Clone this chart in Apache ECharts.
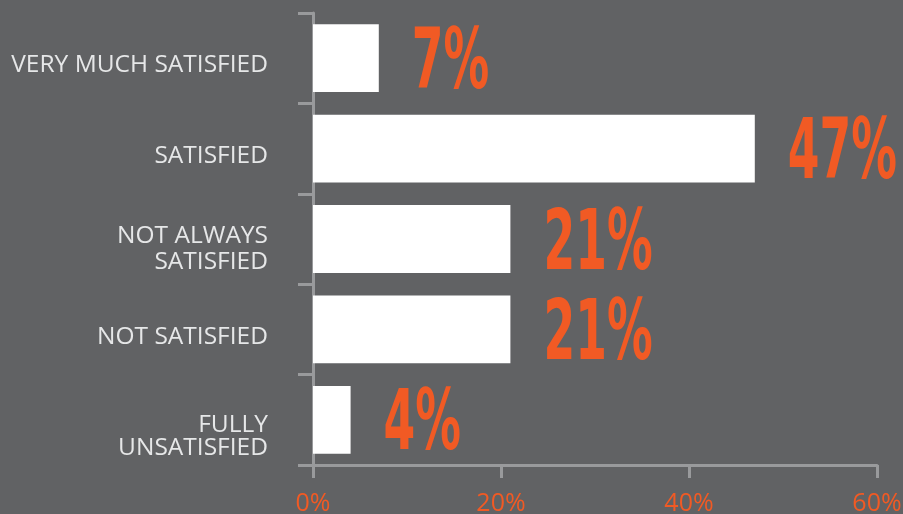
<!DOCTYPE html>
<html>
<head>
<meta charset="utf-8">
<script src="https://cdn.jsdelivr.net/npm/echarts@6/dist/echarts.min.js"></script>
<style>
  html, body { margin: 0; padding: 0; background: #616264; }
  #chart { width: 903px; height: 514px; }
</style>
</head>
<body>
<div id="chart"></div>
<script>
// Survey answers, top to bottom
const categories = [
  'VERY MUCH SATISFIED',
  'SATISFIED',
  'NOT ALWAYS\nSATISFIED',
  'NOT SATISFIED',
  'FULLY\nUNSATISFIED'
];
// Share of respondents, percent
const shares = [7, 47, 21, 21, 4];
// Value axis ticks
const xTicks = [0, 20, 40, 60];

// Per-label text tweaks for the category axis: line spacing and a downward nudge
const labelTweaks = [
  { lineHeight: 27, nudge: 6 },
  { lineHeight: 27, nudge: 6 },
  { lineHeight: 27, nudge: 10 },
  { lineHeight: 27, nudge: 7 },
  { lineHeight: 21, nudge: 18 }
];

const ORANGE = '#f15a24';
const AXIS = '#999a9c';
const LABEL = '#e6e7e8';

// Rich styles: the first line of each label gets a taller line box with the
// text sitting at its bottom, which moves the whole centred block down by `nudge`
const rich = {};
labelTweaks.forEach((t, i) => {
  const base = { color: LABEL, fontFamily: 'Open Sans', fontSize: 24.5, align: 'right' };
  rich['a' + i] = Object.assign({}, base, { lineHeight: t.lineHeight + 2 * t.nudge, verticalAlign: 'bottom' });
  rich['b' + i] = Object.assign({}, base, { lineHeight: t.lineHeight });
});

const chart = echarts.init(document.getElementById('chart'));

chart.setOption({
  backgroundColor: '#616264',
  animation: false,
  grid: { left: 313, right: 26, top: 13, bottom: 49, outerBoundsMode: 'none', containLabel: false },
  xAxis: {
    type: 'value',
    min: xTicks[0],
    max: xTicks[xTicks.length - 1],
    interval: xTicks[1] - xTicks[0],
    splitLine: { show: false },
    axisLine: { show: true, lineStyle: { color: AXIS, width: 3 } },
    axisTick: { show: true, length: 13, lineStyle: { color: AXIS, width: 3 } },
    axisLabel: {
      color: ORANGE,
      fontFamily: 'Open Sans',
      fontSize: 25,
      margin: 26,
      formatter: v => v + '%'
    }
  },
  yAxis: {
    type: 'category',
    inverse: true,
    data: categories,
    axisLine: { show: true, lineStyle: { color: AXIS, width: 3 } },
    axisTick: { show: true, length: 15, lineStyle: { color: AXIS, width: 3 } },
    axisLabel: {
      margin: 45,
      align: 'right',
      rich: rich,
      formatter: function (value, index) {
        return value.split('\n')
          .map((line, k) => '{' + (k === 0 ? 'a' : 'b') + index + '|' + line + '}')
          .join('\n');
      }
    }
  },
  series: [
    {
      type: 'bar',
      data: shares,
      barCategoryGap: '25%',
      itemStyle: { color: '#ffffff' },
      silent: true
    },
    {
      // Large condensed percentage next to each bar
      type: 'custom',
      data: shares.map((v, i) => [v, i]),
      encode: { x: 0, y: 1 },
      clip: false,
      silent: true,
      renderItem: function (params, api) {
        const v = api.value(0);
        const p = api.coord([v, api.value(1)]);
        return {
          type: 'text',
          x: p[0] + 33,
          y: p[1] + 8,
          scaleX: 0.55,
          style: {
            text: v + '%',
            fill: ORANGE,
            fontFamily: 'DejaVu Sans',
            fontWeight: 'bold',
            fontSize: 83,
            align: 'left',
            verticalAlign: 'middle'
          }
        };
      }
    }
  ]
});
</script>
</body>
</html>
